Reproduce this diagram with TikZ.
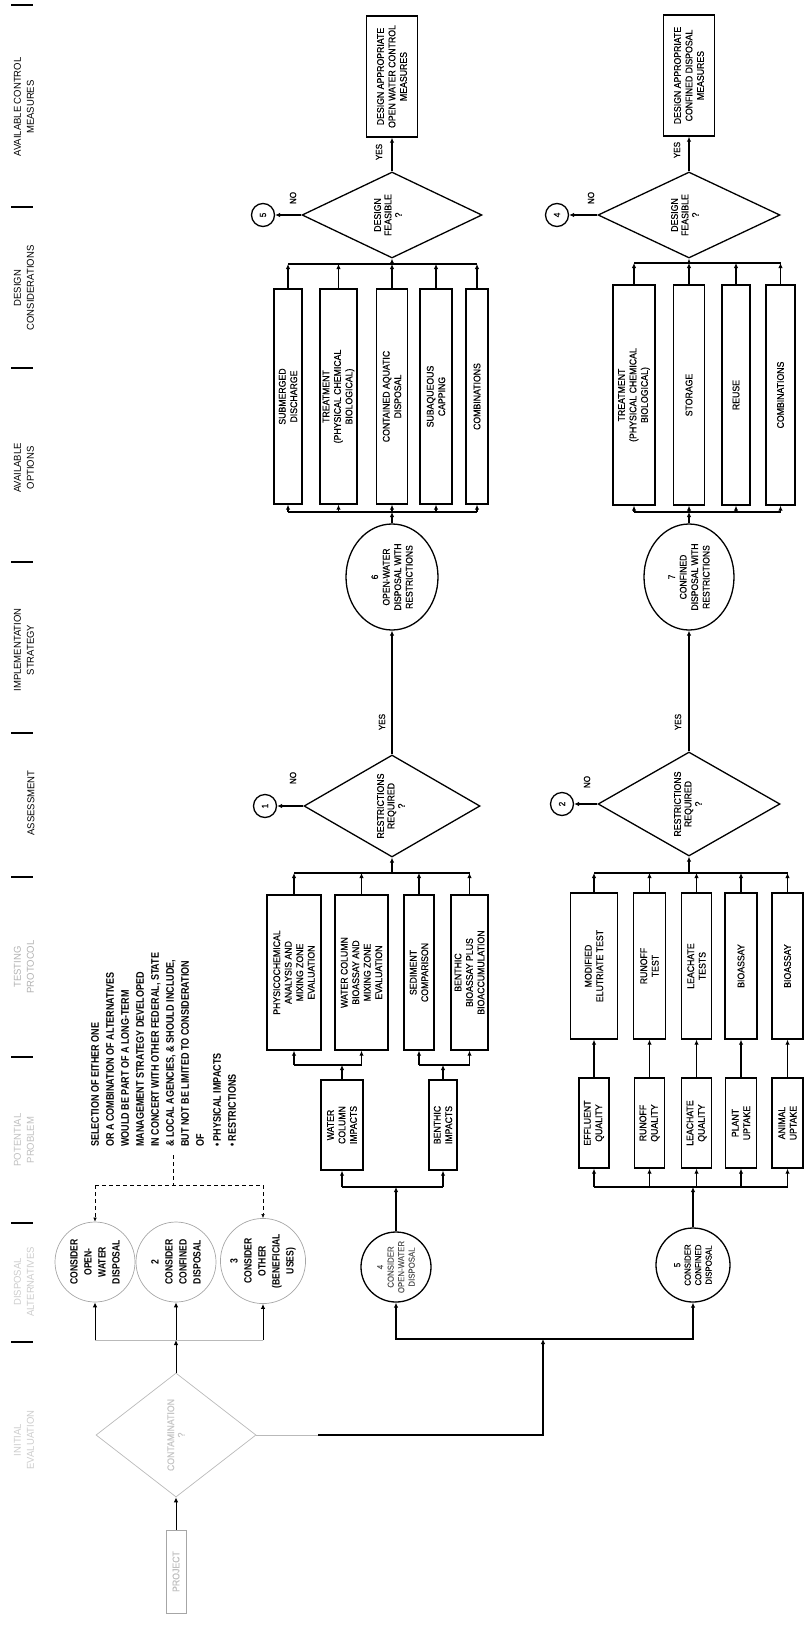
\documentclass[tikz,border=0pt]{standalone}
\usepackage{fontspec}
\setmainfont{Liberation Sans}
\newfontfamily\boxfont[FakeStretch=0.9,FakeBold=0.6]{Liberation Sans}
\newfontfamily\hdfont[FakeStretch=0.95]{Liberation Sans}
\newfontfamily\notefont[FakeStretch=0.82]{Liberation Sans}
\usetikzlibrary{shapes.geometric,arrows.meta}
\begin{document}
\begin{tikzpicture}[x=1pt,y=-1pt,
 ln/.style={line width=1.2pt},
 arr/.style={line width=1.2pt,-{Latex[length=5pt,width=4.5pt]}},
 bx/.style={draw,line width=1.4pt,rotate=90,align=center,inner sep=0pt,font=\boxfont\fontsize{9.7}{11.5}\selectfont},
 dia/.style={draw,diamond,line width=1.3pt,inner sep=0pt},
 rt/.style={rotate=90,align=center,inner sep=0pt,font=\boxfont\fontsize{9.7}{10.5}\selectfont},
 lbl/.style={rotate=90,inner sep=0pt,font=\boxfont\fontsize{9}{10}\selectfont},
 cn/.style={draw,circle,line width=1.3pt,rotate=90,inner sep=0pt,minimum size=23pt,font=\boxfont\fontsize{9}{10}\selectfont},
 el/.style={draw,ellipse,line width=1.3pt,rotate=90,align=center,inner sep=0pt,font=\boxfont\fontsize{9.5}{11.5}\selectfont},
 alt/.style={draw=gray!70,circle,line width=0.7pt,rotate=90,align=center,inner sep=0pt,minimum size=80pt,font=\notefont\bfseries\fontsize{10.5}{14}\selectfont},
 hd/.style={rotate=90,align=center,inner sep=0pt,font=\hdfont\fontsize{10}{13}\selectfont},
 tick/.style={line width=1.4pt},
 nt/.style={rotate=90,align=left,inner sep=0pt,font=\notefont\bfseries\fontsize{11}{15}\selectfont},
 faint/.style={gray!55,line width=0.7pt},
 dsh/.style={line width=0.6pt,dash pattern=on 4pt off 3pt}]
\useasboundingbox (0,0) rectangle (804,1627);

% ---------- header ----------
\foreach \yy in {5,207,368,562,733,877,1057,1223,1342}
  \draw[tick] (11,\yy) -- (33,\yy);
\node[hd] (h1) at (24,107) {AVAILABLE CONTROL\\MEASURES};
\node[hd] (h2) at (24,288) {DESIGN\\CONSIDERATIONS};
\node[hd] (h3) at (24,468) {AVAILABLE\\OPTIONS};
\node[hd] (h4) at (24,650) {IMPLEMENTATION\\STRATEGY};
\node[hd] (h5) at (31,803) {ASSESSMENT};
\node[hd,gray!60] (h6) at (24,967) {TESTING\\PROTOCOL};
\node[hd,gray!50] (h7) at (24,1140) {POTENTIAL\\PROBLEM};
\node[hd,gray!40] (h8) at (24,1282) {DISPOSAL\\ALTERNATIVES};
\node[hd,gray!40] (h9) at (24,1440) {INITIAL\\EVALUATION};

% ---------- open-water branch ----------
\node[bx,minimum width=121pt,minimum height=51pt] (owm) at (392,76.5) {DESIGN APPROPRIATE\\OPEN WATER CONTROL\\MEASURES};
\node[dia,minimum width=180pt,minimum height=86pt] (owdf) at (392,215) {};
\node[rt] (owdft) at (388,215) {DESIGN\\FEASIBLE\\?};
\draw[arr] (owdf.north) -- (owm.west);
\node[lbl] (owy1) at (379,152) {YES};
\node[cn] (cn5) at (263,215) {5};
\draw[arr] (owdf.west) -- (cn5);
\node[lbl] (own1) at (293,198) {NO};
\coordinate (owb1) at (392,264);
\draw[arr] (owb1) -- (owdf.south);
\foreach \n/\x/\w/\t in {o1/288/28/{SUBMERGED\\DISCHARGE},o2/338.5/37/{TREATMENT\\(PHYSICAL CHEMICAL\\BIOLOGICAL)},o3/392/31/{CONTAINED AQUATIC\\DISPOSAL},o4/436/32/{SUBAQUEOUS\\CAPPING},o5/477/22/{COMBINATIONS}}
  \node[bx,minimum width=215pt,minimum height=\w pt] (\n) at (\x,396.5) {\t};
\coordinate (owl) at (392,512);
\draw[ln] (o1.east |- owb1) -- (o5.east |- owb1);
\draw[ln] (o1.west |- owl) -- (o5.west |- owl);
\foreach \n in {o1,o2,o3,o4,o5}{
  \draw[arr] (\n.east) -- (\n.east |- owb1);
  \draw[arr] (\n.west |- owl) -- (\n.west);}
\node[el,minimum width=106pt,minimum height=92pt] (c6) at (392,577) {6\\OPEN-WATER\\DISPOSAL WITH\\RESTRICTIONS};
\draw[arr] (c6.east) -- (owl);
\node[dia,minimum width=176pt,minimum height=102pt] (owrr) at (392,806) {};
\node[rt] (owrrt) at (391,806) {RESTRICTIONS\\REQUIRED\\?};
\draw[arr] (owrr.north) -- (c6.west);
\node[lbl] (owy2) at (382,722) {YES};
\node[cn] (cn1) at (265,806) {1};
\draw[arr] (owrr.west) -- (cn1);
\node[lbl] (own2) at (293,778) {NO};
\coordinate (owt) at (392,873);
\draw[arr] (owt) -- (owrr.south);
\foreach \n/\x/\w/\t in {t1/294/54/{PHYSICOCHEMICAL\\ANALYSIS AND\\MIXING ZONE\\EVALUATION},t2/361.5/53/{WATER COLUMN\\BIOASSAY AND\\MIXING ZONE\\EVALUATION},t3/419/30/{SEDIMENT\\COMPARISON},t4/469.5/37/{BENTHIC\\BIOASSAY PLUS\\BIOACCUMULATION}}
  \node[bx,minimum width=155pt,minimum height=\w pt] (\n) at (\x,972.5) {\t};
\draw[ln] (t1.east |- owt) -- (t4.east |- owt);
\foreach \n in {t1,t2,t3,t4}
  \draw[arr] (\n.east) -- (\n.east |- owt);
\node[bx,minimum width=90pt,minimum height=42pt] (wc) at (342,1125) {WATER\\COLUMN\\IMPACTS};
\node[bx,minimum width=90pt,minimum height=28pt] (ben) at (443,1125) {BENTHIC\\IMPACTS};
\coordinate (wcb) at (342,1065);
\coordinate (benb) at (443,1065);
\draw[ln] (t1.west |- wcb) -- (t2.west |- wcb);
\draw[ln] (t3.west |- benb) -- (t4.west |- benb);
\foreach \n in {t1,t2} \draw[arr] (\n.west |- wcb) -- (\n.west);
\foreach \n in {t3,t4} \draw[arr] (\n.west |- benb) -- (\n.west);
\draw[arr] (wc.east) -- (wcb);
\draw[arr] (ben.east) -- (benb);
\coordinate (owp) at (396,1187);
\draw[ln] (wc.west |- owp) -- (ben.west |- owp);
\draw[arr] (wc.west |- owp) -- (wc.west);
\draw[arr] (ben.west |- owp) -- (ben.west);
\node[cn,minimum size=70pt,align=center,font=\boxfont\fontsize{8.7}{10.5}\selectfont,text=gray!70!black] (c4) at (396,1267) {4\\CONSIDER\\OPEN-WATER\\DISPOSAL};
\draw[arr] (c4.east) -- (owp);

% ---------- confined branch ----------
\node[bx,minimum width=121pt,minimum height=51pt] (cfm) at (689,75.5) {DESIGN APPROPRIATE\\CONFINED DISPOSAL\\MEASURES};
\node[dia,minimum width=182pt,minimum height=86pt] (cfdf) at (689,215) {};
\node[rt] (cfdft) at (685,215) {DESIGN\\FEASIBLE\\?};
\draw[arr] (cfdf.north) -- (cfm.west);
\node[lbl] (cfy1) at (677,150) {YES};
\node[cn] (cn4) at (557,215) {4};
\draw[arr] (cfdf.west) -- (cn4);
\node[lbl] (cfn1) at (591,198) {NO};
\coordinate (cfb1) at (689,263);
\draw[arr] (cfb1) -- (cfdf.south);
\foreach \n/\x/\w/\t in {q1/634/42/{TREATMENT\\(PHYSICAL CHEMICAL\\BIOLOGICAL)},q2/689/31/{STORAGE},q3/736/28/{REUSE},q4/780.5/29/{COMBINATIONS}}
  \node[bx,minimum width=220pt,minimum height=\w pt] (\n) at (\x,395) {\t};
\coordinate (cfl) at (689,512);
\draw[ln] (q1.east |- cfb1) -- (q4.east |- cfb1);
\draw[ln] (q1.west |- cfl) -- (q4.west |- cfl);
\foreach \n in {q1,q2,q3,q4}{
  \draw[arr] (\n.east) -- (\n.east |- cfb1);
  \draw[arr] (\n.west |- cfl) -- (\n.west);}
\node[el,minimum width=106pt,minimum height=90pt] (c7) at (689,577) {7\\CONFINED\\DISPOSAL WITH\\RESTRICTIONS};
\draw[arr] (c7.east) -- (cfl);
\node[dia,minimum width=182pt,minimum height=104pt] (cfrr) at (689,804) {};
\node[rt] (cfrrt) at (688,804) {RESTRICTIONS\\REQUIRED\\?};
\draw[arr] (cfrr.north) -- (c7.west);
\node[lbl] (cfy2) at (678,722) {YES};
\node[cn] (cn2) at (562,804) {2};
\draw[arr] (cfrr.west) -- (cn2);
\node[lbl] (cfn2) at (587,782) {NO};
\coordinate (cft) at (689,873);
\draw[arr] (cft) -- (cfrr.south);
\foreach \n/\x/\w/\t in {ct1/594/47/{MODIFIED\\ELUTRIATE TEST},ct2/649.5/32/{RUNOFF\\TEST},ct3/696.5/30/{LEACHATE\\TESTS},ct4/741/32/{BIOASSAY},ct5/787.5/31/{BIOASSAY}}
  \node[bx,minimum width=146pt,minimum height=\w pt] (\n) at (\x,966) {\t};
\foreach \n/\x/\w/\t in {cp1/594/30/{EFFLUENT\\QUALITY},cp2/649.5/30/{RUNOFF\\QUALITY},cp3/696.5/30/{LEACHATE\\QUALITY},cp4/741/31/{PLANT\\UPTAKE},cp5/787.5/31/{ANIMAL\\UPTAKE}}
  \node[bx,minimum width=90pt,minimum height=\w pt] (\n) at (\x,1123) {\t};
\draw[ln] (ct1.east |- cft) -- (ct5.east |- cft);
\coordinate (cfp) at (693,1187);
\draw[ln] (cp1.west |- cfp) -- (cp5.west |- cfp);
\foreach \i in {1,...,5}{
  \draw[arr] (ct\i.east) -- (ct\i.east |- cft);
  \draw[arr] (cp\i.east) -- (ct\i.west);
  \draw[arr] (cp\i.west |- cfp) -- (cp\i.west);}
\node[cn,minimum size=74pt,align=center,font=\boxfont\fontsize{8.7}{10.5}\selectfont] (c5) at (693,1265) {5\\CONSIDER\\CONFINED\\DISPOSAL};
\draw[arr] (c5.east) -- (cfp);

% ---------- junction ----------
\coordinate (jn) at (543,1339);
\draw[arr] (jn) -| (c4.west);
\draw[arr] (jn) -| (c5.west);

% ---------- alternatives & note ----------
\node[nt,anchor=north west] (note) at (91,1147) {SELECTION OF EITHER ONE\\OR A COMBINATION OF ALTERNATIVES\\WOULD BE PART OF A LONG-TERM\\MANAGEMENT STRATEGY DEVELOPED\\IN CONCERT WITH OTHER FEDERAL, STATE\\\& LOCAL AGENCIES, \& SHOULD INCLUDE,\\BUT NOT BE LIMITED TO CONSIDERATION\\OF};
\node[nt,anchor=north west] (bul) at (213,1147) {\textbullet\ PHYSICAL IMPACTS\\\textbullet\ RESTRICTIONS};
\node[alt] (a1) at (95,1262) {CONSIDER\\OPEN-\\WATER\\DISPOSAL};
\node[alt] (a2) at (176,1262) {2\\CONSIDER\\CONFINED\\DISPOSAL};
\node[alt] (a3) at (263,1261) {3\\CONSIDER\\OTHER\\(BENEFICIAL\\USES)};
\coordinate (nb) at (173,1155);
\coordinate (nl) at (95,1185);
\coordinate (nr) at (263,1185);
\draw[dsh] (nb) -- (173,1185);
\draw[dsh] (nl) -- (nr);
\draw[dsh,-{Latex[length=4pt,width=3.5pt]}] (nl) -- (a1.east);
\draw[dsh,-{Latex[length=4pt,width=3.5pt]}] (nr) -- (a3.east);

% ---------- initial evaluation ----------
\node[dia,draw=gray!55,line width=0.7pt,minimum width=160pt,minimum height=124pt] (ini) at (176,1435) {};
\node[rt,gray!45] (init) at (176,1435) {CONTAMINATION\\?};
\node[bx,draw=gray!70,line width=1pt,minimum width=83pt,minimum height=20pt,text=gray!50] (pb) at (176,1571.5) {PROJECT};
\draw[arr,line width=1pt] (pb.east) -- (ini.south);
\coordinate (ab) at (176,1340);
\draw[faint] (a1.west |- ab) -- (a3.west |- ab);
\draw[arr,line width=1pt] (ini.north) -- (ab);
\foreach \n in {a1,a2,a3}
  \draw[arr,line width=1pt] (\n.west |- ab) -- (\n.west);
\coordinate (fe) at (318,1435);
\draw[faint] (ini.east) -- (fe);
\draw[arr] (fe) -| (jn);
\end{tikzpicture}
\end{document}
